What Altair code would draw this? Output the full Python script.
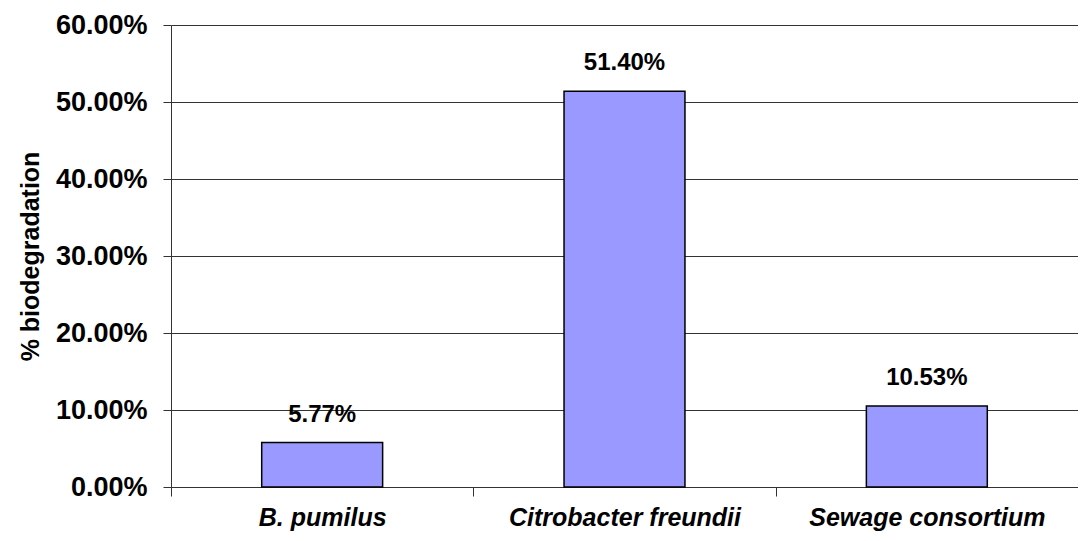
import altair as alt
import pandas as pd

categories = ["B. pumilus", "Citrobacter freundii", "Sewage consortium"]
values = [0.0577, 0.5140, 0.1053]
labels = ["5.77%", "51.40%", "10.53%"]

df = pd.DataFrame({"cat": categories, "val": values, "lab": labels})

FONT = "Liberation Sans"

x = alt.X("cat:N", sort=categories, title=None,
          scale=alt.Scale(paddingInner=0, paddingOuter=0),
          axis=alt.Axis(labelAngle=0, labelFont=FONT, labelFontSize=25,
                        labelFontWeight="bold", labelFontStyle="italic",
                        labelColor="black", labelPadding=9, labelLimit=0,
                        tickBand="extent", tickSize=9, tickColor="#333",
                        domainColor="#333", grid=False))
y = alt.Y("val:Q", title="% biodegradation",
          scale=alt.Scale(domain=[0, 0.6]),
          axis=alt.Axis(format=".2%", values=[0, 0.1, 0.2, 0.3, 0.4, 0.5, 0.6],
                        labelFont=FONT, labelFontSize=27, labelFontWeight="bold",
                        labelColor="black", labelPadding=16, tickSize=8,
                        tickColor="#333", domainColor="#333",
                        gridColor="#333", gridWidth=1,
                        titleFont=FONT, titleFontSize=25, titleFontWeight="bold",
                        titleColor="black", titlePadding=12))

bars = alt.Chart(df).mark_bar(width=alt.RelativeBandSize(0.4), color="#9999FF",
                              stroke="black", strokeWidth=1.5).encode(x=x, y=y)

text = alt.Chart(df).mark_text(font=FONT, fontSize=24, fontWeight="bold",
                               color="black", baseline="bottom", dy=-16).encode(
    x=alt.X("cat:N", sort=categories), y="val:Q", text="lab:N")

chart = alt.layer(bars, text).properties(
    width=907, height=462,
    autosize=alt.AutoSizeParams(type="none"),
    padding={"left": 163, "top": 17, "right": 0, "bottom": 46},
).configure_view(stroke=None).configure_axis(domainWidth=1, tickWidth=1)

chart.save("out.html", embed_options={"renderer": "svg", "actions": False})
